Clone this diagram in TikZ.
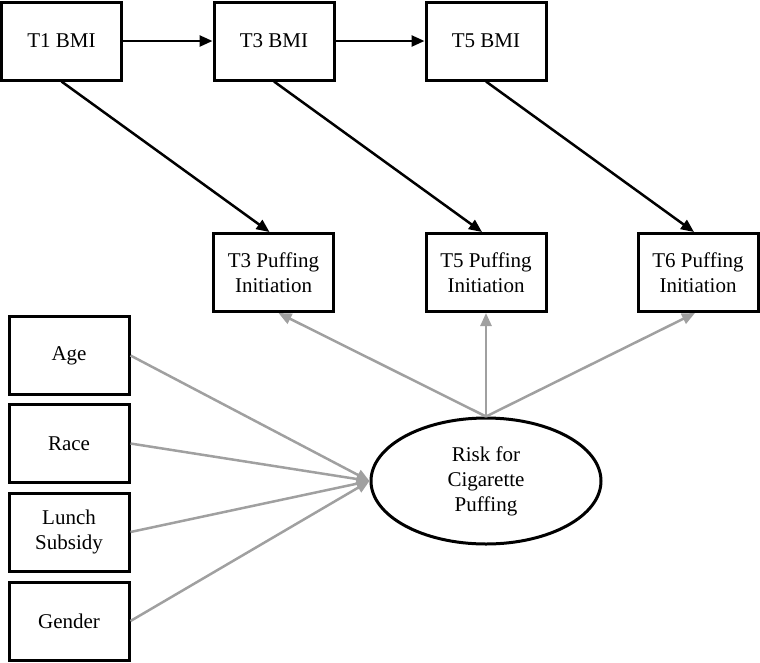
\documentclass[tikz,border=0pt]{standalone}
\usepackage{fontspec}
\setmainfont{Liberation Serif}
\usetikzlibrary{arrows.meta,shapes.geometric}
\definecolor{linegray}{RGB}{160,160,160}
\begin{document}
\begin{tikzpicture}[x=1pt,y=-1pt,
  box/.style={draw=black,line width=3pt,fill=white,minimum width=120pt,minimum height=78pt,inner sep=0pt,align=center,font=\fontsize{21}{25}\selectfont},
  lat/.style={draw=black,line width=3pt,fill=white,ellipse,minimum width=230pt,minimum height=126pt,inner sep=0pt,align=center,font=\fontsize{21}{25}\selectfont},
  blk/.style={draw=black,line width=2.5pt,-{Triangle[length=13pt,width=11pt]}},
  gry/.style={draw=linegray,line width=2.5pt,-{Triangle[length=13pt,width=11pt]}}]
\useasboundingbox (0,0) rectangle (760,662);
\node[box] (t1) at (61.5,41) {T1 BMI};
\node[box] (t3) at (274,41) {T3 BMI};
\node[box] (t5) at (486,41) {T5 BMI};
\node[box] (p3) at (273.5,272.5) {T3 Puffing\\Initiation};
\node[box] (p5) at (486,272.5) {T5 Puffing\\Initiation};
\node[box] (p6) at (698,272.5) {T6 Puffing\\Initiation};
\node[box] (age) at (69,355.5) {Age};
\node[box] (race) at (69,443.5) {Race};
\node[box] (lunch) at (69,532) {Lunch\\Subsidy};
\node[box] (gender) at (69,621) {Gender};
\node[lat] (risk) at (486,481) {Risk for\\Cigarette\\Puffing};
\draw[blk] (t1.east) -- (t3.west);
\draw[blk] (t3.east) -- (t5.west);
\draw[blk] (t1.south) -- ([xshift=-4pt]p3.north);
\draw[blk] (t3.south) -- ([xshift=-4pt]p5.north);
\draw[blk] (t5.south) -- ([xshift=-4pt]p6.north);
\draw[gry] (risk.north) -- ([xshift=5pt]p3.south);
\draw[gry] (risk.north) -- (p5.south);
\draw[gry] (risk.north) -- ([xshift=-3pt]p6.south);
\draw[gry] (age.east) -- (risk.west);
\draw[gry] (race.east) -- (risk.west);
\draw[gry] (lunch.east) -- (risk.west);
\draw[gry] (gender.east) -- (risk.west);
\end{tikzpicture}
\end{document}
